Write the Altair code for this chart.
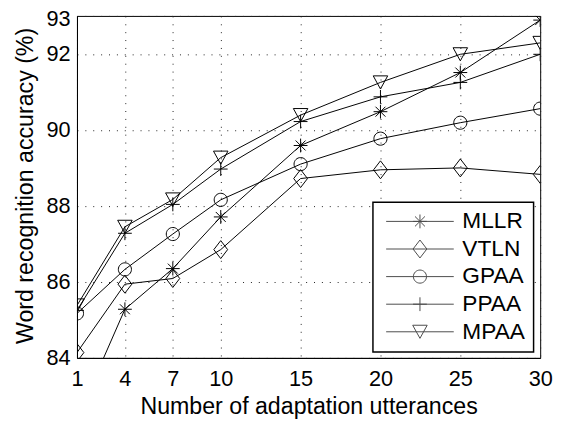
import altair as alt
import pandas as pd

# ---- data ----
utterances = [1, 4, 7, 10, 15, 20, 25, 30]
methods = ["MLLR", "VTLN", "GPAA", "PPAA", "MPAA"]
mllr = [82.4, 85.28, 86.35, 87.71, 89.59, 90.48, 91.51, 92.89]
vtln = [84.14, 85.94, 86.09, 86.85, 88.72, 88.95, 89.00, 88.83]
gpaa = [85.17, 86.33, 87.26, 88.16, 89.10, 89.77, 90.19, 90.56]
ppaa = [85.25, 87.28, 88.04, 88.97, 90.22, 90.87, 91.25, 91.99]
mpaa = [85.38, 87.45, 88.17, 89.27, 90.39, 91.25, 91.99, 92.29]
y_ticks = [84, 86, 88, 90, 92, 93]

rows = []
for m, vals in zip(methods, [mllr, vtln, gpaa, ppaa, mpaa]):
    for x, v in zip(utterances, vals):
        rows.append({"n": x, "acc": v, "method": m})
df = pd.DataFrame(rows)


# ---- marker shapes (SVG paths in unit space) ----
def f(v):
    return f"{v:.3f}"


def marker(kind, k, dx=0.0):
    if kind == "MLLR":  # asterisk
        d = 0.72 * k
        return (f"M{f(dx-k)},0H{f(dx+k)}M{f(dx)},{f(-k)}V{f(k)}"
                f"M{f(dx-d)},{f(-d)}L{f(dx+d)},{f(d)}M{f(dx-d)},{f(d)}L{f(dx+d)},{f(-d)}")
    if kind == "VTLN":  # diamond
        return f"M{f(dx)},{f(-1.3*k)}L{f(dx+k)},0L{f(dx)},{f(1.3*k)}L{f(dx-k)},0Z"
    if kind == "GPAA":  # circle
        r = 0.95 * k
        return (f"M{f(dx+r)},0A{f(r)},{f(r)} 0 1,1 {f(dx-r)},0"
                f"A{f(r)},{f(r)} 0 1,1 {f(dx+r)},0Z")
    if kind == "PPAA":  # plus
        return f"M{f(dx-k)},0H{f(dx+k)}M{f(dx)},{f(-k)}V{f(k)}"
    # MPAA triangle down
    return (f"M{f(dx-1.05*k)},{f(-0.95*k)}L{f(dx+1.05*k)},{f(-0.95*k)}"
            f"L{f(dx)},{f(0.95*k)}Z")


point_paths = [marker(m, 1.0) for m in methods]

# legend symbol: size 441 -> unit = 10.5 px; line 68.6 px long, shifted right
LEG_UNIT = 10.5
half_line = 34.3 / LEG_UNIT
shift = 28.2 / LEG_UNIT
legend_paths = [
    f"M{f(shift-half_line)},0H{f(shift+half_line)}" + marker(m, 7.0 / LEG_UNIT, shift)
    for m in methods
]

FONT = "Liberation Sans"

x_enc = alt.X(
    "n:Q",
    scale=alt.Scale(domain=[1, 30], nice=False, zero=False),
    axis=alt.Axis(
        values=utterances, title="Number of adaptation utterances",
        grid=True, gridDash=[1, 7], gridColor="#222", gridWidth=1,
        tickSize=0, labelPadding=11, labelFontSize=22, labelFont=FONT,
        labelColor="black", labelFlush=False, domainColor="black",
        titleFontSize=23.5, titleFont=FONT, titleFontWeight="normal",
        titleColor="black", titleX=235, titleY=56, titleBaseline="alphabetic",
    ),
)
y_enc = alt.Y(
    "acc:Q",
    scale=alt.Scale(domain=[84, 93], nice=False, zero=False),
    axis=alt.Axis(
        values=y_ticks, title="Word recognition accuracy (%)",
        grid=True, gridDash=[1, 7], gridColor="#222", gridWidth=1,
        tickSize=0, labelPadding=7, labelFontSize=22, labelFont=FONT,
        labelColor="black", labelFlush=False, domainColor="black",
        labelOffset=alt.condition("datum.value == 93", alt.value(3), alt.value(0)),
        titleFontSize=23.5, titleFont=FONT, titleFontWeight="normal",
        titleColor="black", titleX=-45, titleY=172, titleBaseline="alphabetic",
        titleAlign="center",
    ),
)

lines = alt.Chart(df).mark_line(clip=True, color="black", strokeWidth=1).encode(
    x=x_enc, y=y_enc, detail="method:N", order="n:Q"
)

points = alt.Chart(df).mark_point(
    clip=True, filled=False, color="black", size=196, strokeWidth=1, opacity=1
).encode(
    x=x_enc, y=y_enc,
    shape=alt.Shape("method:N", scale=alt.Scale(domain=methods, range=point_paths), legend=None),
)

legend_layer = alt.Chart(df).mark_point(
    clip=True, filled=False, color="black", strokeWidth=1
).encode(
    x=alt.value(-300), y=alt.value(-300),
    shape=alt.Shape(
        "method:N",
        scale=alt.Scale(domain=methods, range=legend_paths),
        legend=alt.Legend(
            title=None, orient="none", legendX=300.3, legendY=189,
            padding=8, rowPadding=4, symbolSize=441,
            symbolOffset=0, labelOffset=59.7,
            labelFontSize=23, labelFont=FONT, labelColor="black",
            strokeColor="black", fillColor="white",
            symbolStrokeColor="black", symbolStrokeWidth=1,
            symbolFillColor="transparent",
        ),
    ),
)

chart = (
    alt.layer(lines, points, legend_layer)
    .resolve_scale(shape="independent")
    .properties(
        width=470, height=347,
        autosize=alt.AutoSizeParams(type="none"),
        padding={"left": 70, "top": 5, "right": 13, "bottom": 62},
        background="white",
    )
    .configure_view(stroke="black", strokeWidth=1)
    .configure_legend(strokeWidth=1.5)
)

chart.save("out.html", embed_options={"renderer": "svg", "actions": False})
